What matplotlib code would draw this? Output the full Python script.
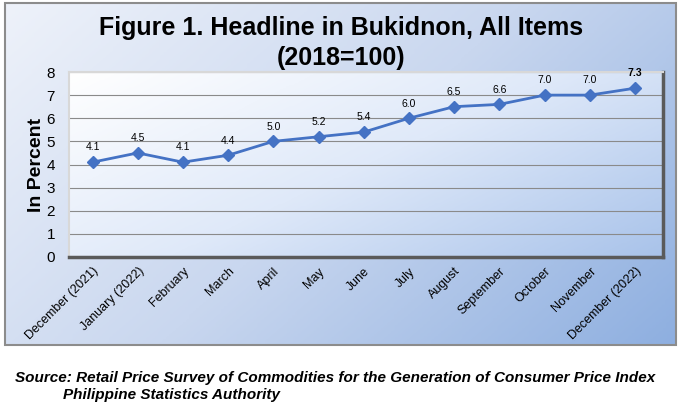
import numpy as np
import matplotlib
matplotlib.use("Agg")
import matplotlib.pyplot as plt
from matplotlib.colors import LinearSegmentedColormap
from matplotlib.patches import Rectangle

months = [
    "December (2021)", "January (2022)", "February", "March", "April", "May",
    "June", "July", "August", "September", "October", "November",
    "December (2022)",
]
inflation = [4.1, 4.5, 4.1, 4.4, 5.0, 5.2, 5.4, 6.0, 6.5, 6.6, 7.0, 7.0, 7.3]
y_ticks = [0, 1, 2, 3, 4, 5, 6, 7, 8]

plt.rcParams["font.family"] = ["Liberation Sans", "DejaVu Sans"]

fig = plt.figure(figsize=(6.82, 4.05), dpi=100)

# outer chart box gradient
bg = fig.add_axes([0, 0, 1, 1], zorder=-10)
bg.set_xlim(0, 682)
bg.set_ylim(405, 0)
bg.axis("off")
outer_cmap = LinearSegmentedColormap.from_list("outer", ["#eef2fa", "#c9d7ef", "#8eafe0"])
gx, gy = np.meshgrid(np.linspace(0, 1, 200), np.linspace(0, 1, 120))
grad = 0.65 * gx + 0.35 * gy
bg.imshow(grad, cmap=outer_cmap, extent=[5, 676, 345, 3], aspect="auto", zorder=0)
bg.add_patch(Rectangle((5, 3), 671, 342, fill=False, edgecolor="#8c8c8c", lw=1.5, zorder=2))

ax = fig.add_axes([69 / 682, 1 - 257 / 405, (663 - 69) / 682, (257 - 72) / 405])
ax.set_facecolor("none")

inner_cmap = LinearSegmentedColormap.from_list("inner", ["#ffffff", "#dfe9f9", "#a9c3ea"])
px, py = np.meshgrid(np.linspace(0, 1, 200), np.linspace(0, 1, 120))
ax.imshow(0.6 * px + 0.4 * py, cmap=inner_cmap, extent=[-0.52, 12.62, 0, 8],
          aspect="auto", zorder=0, origin="upper")

ax.set_xlim(-0.52, 12.62)
ax.set_ylim(0, 8)
ax.set_yticks(y_ticks)
ax.yaxis.grid(True, color="#8a8a8a", lw=0.8, zorder=1)
ax.set_axisbelow(True)

for side in ["top", "left"]:
    ax.spines[side].set_color("#d8d8d8")
    ax.spines[side].set_linewidth(1.5)
for side in ["right", "bottom"]:
    ax.spines[side].set_color("#5a5a5a")
    ax.spines[side].set_linewidth(2.5)

x = np.arange(len(months))
ax.plot(x, inflation, color="#4472c4", lw=2, marker="D", ms=6,
        markeredgecolor="#4472c4", zorder=3)

for i, v in enumerate(inflation):
    last = i == len(inflation) - 1
    ax.annotate(f"{v:.1f}", (i, v), xytext=(0, 7), textcoords="offset points",
                ha="center", va="bottom", fontsize=7.5,
                fontweight="bold" if last else "normal", color="black")

ax.tick_params(axis="both", length=0)
ax.set_xticks(x)
ax.set_xticklabels(months, rotation=45, ha="right", rotation_mode="anchor",
                   fontsize=9)
ax.tick_params(axis="x", pad=6)
ax.tick_params(axis="y", labelsize=11, pad=10)

ax.set_ylabel("In Percent", fontsize=14, fontweight="bold")
ax.yaxis.set_label_coords(-0.04, 0.5)

fig.text(341 / 682, 1 - 28 / 405, "Figure 1. Headline in Bukidnon, All Items",
         ha="center", va="center", fontsize=18, fontweight="bold")
fig.text(341 / 682, 1 - 58 / 405, "(2018=100)",
         ha="center", va="center", fontsize=18, fontweight="bold")

fig.text(15 / 682, 1 - 378 / 405,
         "Source: Retail Price Survey of Commodities for the Generation of Consumer Price Index",
         ha="left", va="center", fontsize=11, fontweight="bold", style="italic")
fig.text(63 / 682, 1 - 395 / 405, "Philippine Statistics Authority",
         ha="left", va="center", fontsize=11, fontweight="bold", style="italic")

fig.savefig("out.png", dpi=100)
